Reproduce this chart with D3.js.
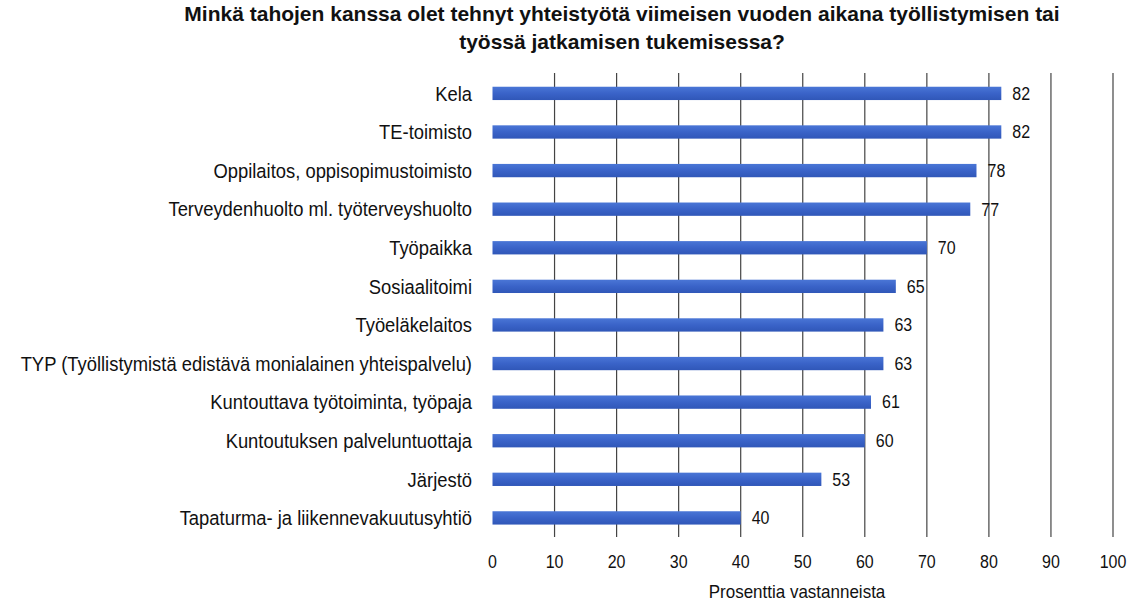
<!DOCTYPE html>
<html>
<head>
<meta charset="utf-8">
<script src="https://cdn.jsdelivr.net/npm/d3@7"></script>
<style>
  body { margin: 0; background: #fff; }
  text { font-family: "Liberation Sans", Arial, sans-serif; fill: #111; }
</style>
</head>
<body>
<svg id="chart" width="1141" height="606"></svg>
<script>
var categories = [
  "Kela",
  "TE-toimisto",
  "Oppilaitos, oppisopimustoimisto",
  "Terveydenhuolto ml. työterveyshuolto",
  "Työpaikka",
  "Sosiaalitoimi",
  "Työeläkelaitos",
  "TYP (Työllistymistä edistävä monialainen yhteispalvelu)",
  "Kuntouttava työtoiminta, työpaja",
  "Kuntoutuksen palveluntuottaja",
  "Järjestö",
  "Tapaturma- ja liikennevakuutusyhtiö"
];
var values = [82, 82, 78, 77, 70, 65, 63, 63, 61, 60, 53, 40];
var ticks = [0, 10, 20, 30, 40, 50, 60, 70, 80, 90, 100];
var titleLines = [
  "Minkä tahojen kanssa olet tehnyt yhteistyötä viimeisen vuoden aikana työllistymisen tai",
  "työssä jatkamisen tukemisessa?"
];
var axisTitle = "Prosenttia vastanneista";

var svg = d3.select("#chart");

var x = d3.scaleLinear()
    .domain([0, 100])
    .range([492.5, 1113]);

var y = d3.scaleBand()
    .domain(categories)
    .range([74, 537.3])
    .paddingInner(0.655)
    .paddingOuter(0.33);

// text is slightly taller than wide in the original
function stretched(sel, px, py) {
  return sel.attr("transform", (d, i) => "translate(" + px(d, i) + "," + py(d, i) + ") scale(1,1.1)");
}

// title
svg.append("g")
  .selectAll("text")
  .data(titleLines)
  .enter()
  .append("text")
    .attr("x", 622)
    .attr("y", (d, i) => 21 + i * 28)
    .attr("text-anchor", "middle")
    .attr("font-size", "21px")
    .attr("font-weight", "bold")
    .text(d => d);

// vertical grid lines
svg.append("g")
  .selectAll("line")
  .data(ticks.filter(t => t > 0))
  .enter()
  .append("line")
    .attr("x1", d => x(d))
    .attr("x2", d => x(d))
    .attr("y1", 73)
    .attr("y2", 537)
    .attr("stroke", "#444")
    .attr("stroke-width", 1.2);

// bars
var grad = svg.append("defs").append("linearGradient")
    .attr("id", "barGrad")
    .attr("x1", 0).attr("x2", 0).attr("y1", 0).attr("y2", 1);
grad.append("stop").attr("offset", "0%").attr("stop-color", "#4a76d6");
grad.append("stop").attr("offset", "50%").attr("stop-color", "#3a63c8");
grad.append("stop").attr("offset", "100%").attr("stop-color", "#3057b8");

svg.append("g")
  .selectAll("rect")
  .data(values)
  .enter()
  .append("rect")
    .attr("x", x(0))
    .attr("y", (d, i) => y(categories[i]))
    .attr("width", d => x(d) - x(0))
    .attr("height", y.bandwidth())
    .attr("fill", "url(#barGrad)");

// value labels
svg.append("g")
  .selectAll("text")
  .data(values)
  .enter()
  .append("text")
    .call(stretched, d => x(d) + 11, (d, i) => y(categories[i]) + y.bandwidth() / 2)
    .attr("dy", "0.36em")
    .attr("font-size", "16px")
    .text(d => d);

// category labels
svg.append("g")
  .selectAll("text")
  .data(categories)
  .enter()
  .append("text")
    .call(stretched, () => 472, d => y(d) + y.bandwidth() / 2)
    .attr("dy", "0.36em")
    .attr("text-anchor", "end")
    .attr("font-size", "18.4px")
    .text(d => d);

// x axis tick labels
svg.append("g")
  .selectAll("text")
  .data(ticks)
  .enter()
  .append("text")
    .call(stretched, d => x(d), () => 568)
    .attr("text-anchor", "middle")
    .attr("font-size", "16px")
    .text(d => d);

svg.append("text")
    .call(stretched, () => 797, () => 598)
    .attr("text-anchor", "middle")
    .attr("font-size", "17px")
    .text(axisTitle);
</script>
</body>
</html>
